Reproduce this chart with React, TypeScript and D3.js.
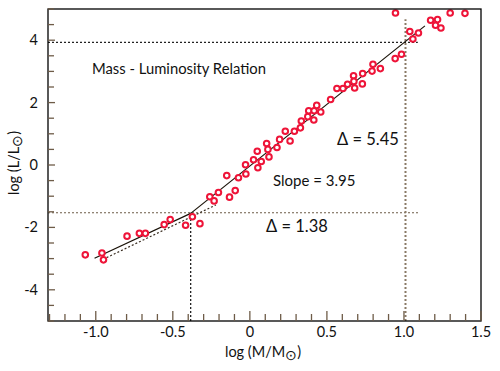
import React from "react";
import { scaleLinear, line, range } from "d3";

// log(M/Msun), log(L/Lsun)
const logMass = [
  -1.068, -0.96, -0.95, -0.797, -0.717, -0.678, -0.556, -0.517, -0.417, -0.373,
  -0.324, -0.26, -0.232, -0.204, -0.132, -0.095, -0.15, -0.074, -0.028, -0.026,
  0.024, 0.048, 0.052, 0.074, 0.109, 0.117, 0.124, 0.176, 0.193, 0.23,
  0.261, 0.289, 0.328, 0.334, 0.376, 0.382, 0.415, 0.417, 0.434, 0.46,
  0.524, 0.565, 0.604, 0.634, 0.673, 0.675, 0.68, 0.732, 0.73, 0.793,
  0.799, 0.847, 0.943, 0.984, 0.945, 1.038, 1.058, 1.094, 1.173, 1.218,
  1.205, 1.24, 1.3, 1.396,
];
const logLum = [
  -2.88, -2.82, -3.04, -2.28, -2.19, -2.19, -1.91, -1.75, -1.93, -1.66,
  -1.88, -1.02, -1.15, -0.88, -1.03, -0.82, -0.34, -0.41, 0.01, -0.29,
  0.17, 0.44, -0.09, 0.11, 0.69, 0.5, 0.26, 0.56, 0.82, 1.08,
  0.77, 1.08, 1.19, 1.41, 1.55, 1.74, 1.44, 1.74, 1.91, 1.7,
  2.1, 2.45, 2.45, 2.59, 2.86, 2.68, 2.47, 2.93, 2.6, 3.01,
  3.23, 3.09, 3.41, 3.55, 4.87, 4.28, 4.04, 4.23, 4.64, 4.66,
  4.48, 4.39, 4.87, 4.86,
];

// broken power-law fit and guide lines
const fitLow: [number, number][] = [[-1.008, -2.99], [-0.384, -1.55]];
const fitHigh: [number, number][] = [[-0.384, -1.55], [1.136, 4.46]];
const fitLowDotted: [number, number][] = [[-0.93, -2.97], [-0.22, -1.28]];
const guideH = [
  { y: 3.93, x0: -1.31, x1: 1.09, color: "#222" },
  { y: -1.53, x0: -1.31, x1: 1.1, color: "#6e5c48" },
];
const guideV = [
  { x: -0.384, y0: -5, y1: -1.53, color: "#111" },
  { x: 1.01, y0: -5, y1: 4.67, color: "#8a7a66" },
];

const xLabels = [-1.0, -0.5, 0, 0.5, 1.0, 1.5];
const yLabels = [4, 2, 0, -2, -4];

const FONT = "Lato, 'Open Sans', sans-serif";
const TICK = "#6e5c48";
const RED = "#ee1438";

export default function App() {
  const x = scaleLinear().domain([-1.31, 1.5]).range([48, 481]);
  const y = scaleLinear().domain([-5, 5]).range([321, 9]);
  const path = line<[number, number]>()
    .x((d) => x(d[0]))
    .y((d) => y(d[1]));

  const xMinor = range(-13, 16).map((i) => i / 10);
  const yMinor = range(-10, 11).map((i) => i / 2);

  return (
    <svg
      width={500}
      height={371}
      style={{ position: "fixed", left: 0, top: 0, background: "#fff" }}
      fontFamily={FONT}
    >
      {/* guide lines */}
      {guideH.map((g, i) => (
        <line key={"h" + i} x1={x(g.x0)} x2={x(g.x1)} y1={y(g.y)} y2={y(g.y)}
          stroke={g.color} strokeWidth={1.2} strokeDasharray="2,2" />
      ))}
      {guideV.map((g, i) => (
        <line key={"v" + i} x1={x(g.x)} x2={x(g.x)} y1={y(g.y0)} y2={y(g.y1)}
          stroke={g.color} strokeWidth={i === 1 ? 2 : 1.2} strokeDasharray="2,2" />
      ))}

      {/* fit lines */}
      <path d={path(fitLowDotted) || ""} fill="none" stroke="#3a2e22" strokeWidth={1.2} strokeDasharray="2,2" />
      <path d={path(fitLow) || ""} fill="none" stroke="#1a1208" strokeWidth={1.2} />
      <path d={path(fitHigh) || ""} fill="none" stroke="#1a1208" strokeWidth={1.2} />

      {/* data */}
      {logMass.map((m, i) => (
        <circle key={i} cx={x(m)} cy={y(logLum[i])} r={2.8}
          fill="#fff" stroke={RED} strokeWidth={2} />
      ))}

      {/* frame */}
      <rect x={48} y={9} width={433} height={312} fill="none" stroke="#000" strokeWidth={1.3} />

      {/* ticks */}
      {xMinor.map((t) => {
        const major = xLabels.some((l) => Math.abs(l - t) < 1e-6);
        return (
          <line key={"xt" + t} x1={x(t)} x2={x(t)} y1={321} y2={321 - (major ? 10 : 7)}
            stroke={TICK} strokeWidth={1.3} />
        );
      })}
      {yMinor.map((t) => (
        <line key={"yt" + t} x1={48} x2={48 + (t % 2 === 0 ? 7 : 6)} y1={y(t)} y2={y(t)}
          stroke={TICK} strokeWidth={1.3} />
      ))}

      {xLabels.map((t) => (
        <text key={"xl" + t} x={x(t)} y={336.5} textAnchor="middle" fontSize={14.5} fill="#111">
          {t === 0 ? "0" : t.toFixed(1)}
        </text>
      ))}
      {yLabels.map((t) => (
        <text key={"yl" + t} x={38} y={y(t) + 5} textAnchor="end" fontSize={14.5} fill="#111">
          {t}
        </text>
      ))}

      {/* axis titles */}
      <text x={263} y={357} textAnchor="middle" fontSize={14.5} fill="#111">
        log (M/M<tspan dy={3} fontSize={14}>⊙</tspan><tspan dy={-3}>)</tspan>
      </text>
      <text transform="translate(19,163) rotate(-90)" textAnchor="middle" fontSize={14.5} fill="#111">
        log (L/L<tspan dy={3} fontSize={14}>⊙</tspan><tspan dy={-3}>)</tspan>
      </text>

      {/* annotations */}
      <text x={92} y={74} fontSize={14.8} fill="#111">Mass - Luminosity Relation</text>
      <text x={273} y={186} fontSize={15} fill="#111">Slope = 3.95</text>
      <text x={337} y={145} fontSize={16.5} fill="#111">Δ = 5.45</text>
      <text x={266} y={232} fontSize={16.5} fill="#111">Δ = 1.38</text>
    </svg>
  );
}
